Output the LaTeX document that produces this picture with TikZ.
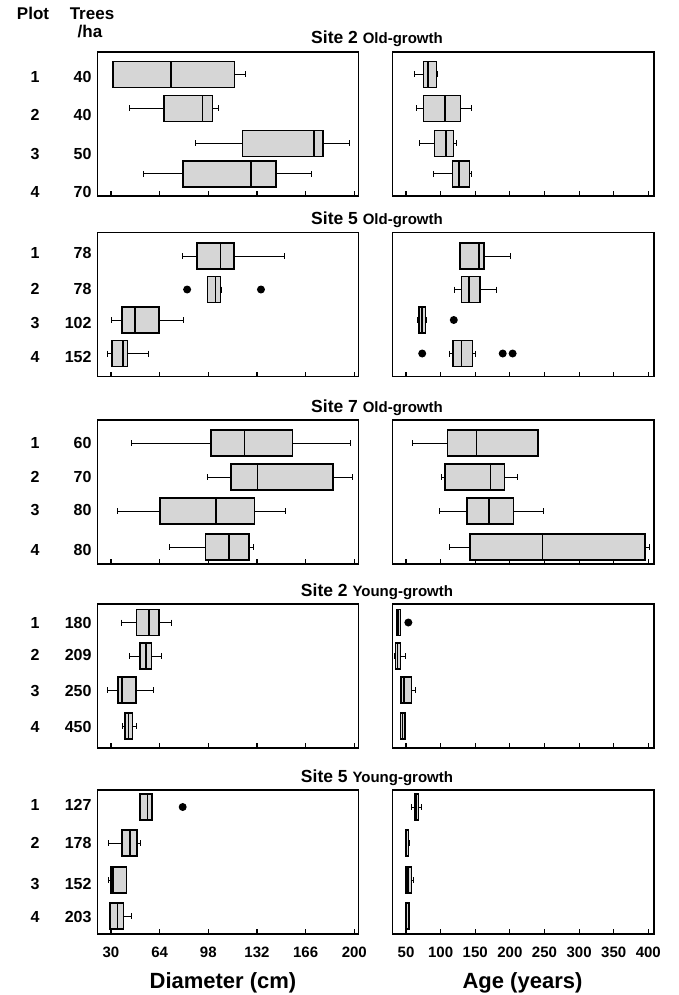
\documentclass[tikz,border=0pt]{standalone}
\usepackage{fontspec}
\setmainfont{Liberation Sans}

\begin{document}
\begin{tikzpicture}[x=1pt,y=-1pt,
    frm/.style={line width=1.1pt},
    bx/.style={draw,line width=1.6pt,fill=black!16},
    wsk/.style={line width=1pt},
    ttl/.style={anchor=base,font=\fontsize{17.5}{20}\selectfont\bfseries},
    hdr/.style={anchor=base,font=\fontsize{17}{20}\selectfont\bfseries},
    rowl/.style={font=\fontsize{16}{19}\selectfont\bfseries},
    tck/.style={font=\fontsize{15}{18}\selectfont\bfseries},
    axt/.style={font=\fontsize{22}{26}\selectfont\bfseries}]
\useasboundingbox (0,0) rectangle (678,995);

% header
\node[hdr] (plot) at (33,20) {Plot};
\node[hdr] (trees) at (92,20) {Trees};
\node[hdr] (ha) at (90,38) {/ha};

% frames, ticks and titles
\foreach \tp/\s/\kind [count=\n] in {52/2/Old-growth, 232.7/5/Old-growth,
    420/7/Old-growth, 604/2/Young-growth, 790/5/Young-growth}{
  \draw[frm] (97.5,\tp) rectangle (358.5,\tp+144);
  \draw[frm] (392.7,\tp) rectangle (654,\tp+144);
  \foreach \k in {0,...,5} \draw[frm] (111+\k*48.66,\tp+144) -- ++(0,-5);
  \foreach \k in {0,...,7} \draw[frm] (406+\k*34.615,\tp+144) -- ++(0,-5);
  \node[ttl] (ttl\n) at (377,\tp-8) {Site \s\ {\fontsize{15}{18}\selectfont \kind}};
}

% plots and trees per ha
\foreach \p/\t/\y [count=\n] in {1/40/77, 2/40/115, 3/50/154, 4/70/192,
    1/78/253, 2/78/289, 3/102/323, 4/152/357,
    1/60/443, 2/70/477, 3/80/510, 4/80/550,
    1/180/623, 2/209/655, 3/250/691, 4/450/727,
    1/127/805, 2/178/843, 3/152/884, 4/203/917}{
  \node[rowl] (p\n) at (35,\y) {\p};
  \node[rowl,anchor=east] (t\n) at (95,\y) {\t};
}

% diameter
\begin{scope}[xshift=68.07pt,x=1.431pt]
\foreach \y/\a/\b/\m/\c/\d in {74.5/31.6/31.6/71.8/116.3/123.9,
    108.5/42.7/67/94/101/105.2, 143.5/89.2/121.8/171.7/178/196.8,
    174/52.8/80.2/128/145.4/170.4,
    256/80.2/89.9/106.5/115.9/151.4, 289.5/97.5/97.5/102.9/106.5/107.2,
    320/30/37.6/46.7/63.4/80.7, 353.5/27.3/30.6/38.5/41.6/55.9,
    443/44.2/99.8/123.4/156.8/197.5, 477/97.6/113.7/132.5/185.2/199,
    511/34.6/64.3/103.5/130.2/152, 547/71/95.9/112.3/126.5/129.5,
    622.5/37.1/47.7/56.5/63.5/72, 656/42.8/50.1/54.3/58.2/65.5,
    690/27.6/34.9/37.6/47.4/59.8, 726/37.9/39.7/42.1/44.9/47.6,
    807/50.3/50.3/55.6/58.8/58.8, 843/28/37.6/43.1/48.3/50.7,
    880/28.5/30/31.6/40.9/40.9, 916/29.1/29.1/34.6/38.8/44.3}{
  \draw[wsk] (\a,\y) -- (\b,\y) (\c,\y) -- (\d,\y);
  \draw[wsk] (\a,\y-3) -- (\a,\y+3) (\d,\y-3) -- (\d,\y+3);
  \filldraw[bx] (\b,\y-13) rectangle (\c,\y+13);
  \draw[bx] (\m,\y-13) -- (\m,\y+13);
}
\foreach \v/\y in {83.2/289.5, 134.8/289.5, 80.1/807}
  \fill (\v,\y) circle (4pt);
\end{scope}

% age
\begin{scope}[xshift=371.385pt,x=0.6923pt]
\foreach \y/\a/\b/\m/\c/\d in {74.5/62.9/75.3/81.4/94/95.7,
    108.5/65.7/75.3/106.6/128.6/144, 143.5/70/90.9/107.7/118.6/123.4,
    174/89.7/117/126.6/142/144,
    256/126.6/128.4/155.3/162.9/201.4, 289.5/120.3/130/140.9/156.6/181.4,
    320/67/69/73/78.4/80, 353.5/112.9/117.7/130.3/145.9/150.3,
    443/59.7/109.7/152.1/240.9/240.9, 477/101.9/106.6/172.1/192.1/210.9,
    511/98.4/137.7/170.3/205.3/248.4, 547/112.9/142.1/247.1/395.3/402.1,
    622.5/36.6/36.6/39/42.1/42.1, 656/33/34.7/38/42.1/49,
    690/42.9/42.9/47/57.9/64, 726/42.1/42.1/45/48.6/48.6,
    807/57.7/62.9/65/67.9/72.1, 843/49/49/51/53.4/55.3,
    880/50.3/50.3/53/57.9/61.4, 916/49/49/51/54/54}{
  \draw[wsk] (\a,\y) -- (\b,\y) (\c,\y) -- (\d,\y);
  \draw[wsk] (\a,\y-3) -- (\a,\y+3) (\d,\y-3) -- (\d,\y+3);
  \filldraw[bx] (\b,\y-13) rectangle (\c,\y+13);
  \draw[bx] (\m,\y-13) -- (\m,\y+13);
}
\foreach \v/\y in {119/320, 73.4/353.5, 189.7/353.5, 204/353.5, 53.4/622.5}
  \fill (\v,\y) circle (4pt);
\end{scope}

% axes
\foreach \v [count=\k from 0] in {30,64,98,132,166,200}
  \node[tck] (dl\k) at (111+\k*48.66,952) {\v};
\foreach \v [count=\k from 0] in {50,100,...,400}
  \node[tck] (al\k) at (406+\k*34.615,952) {\v};
\node[axt] (dia) at (223,983) {Diameter (cm)};
\node[axt] (age) at (522.5,983) {Age (years)};

\end{tikzpicture}
\end{document}
